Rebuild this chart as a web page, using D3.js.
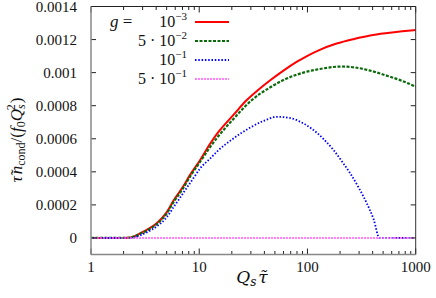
<!DOCTYPE html>
<html>
<head>
<meta charset="utf-8">
<script src="https://cdn.jsdelivr.net/npm/d3@7"></script>
<style>
  body { margin: 0; background: #fff; }
</style>
</head>
<body>
<div id="chart"></div>
<script>
// values (y in units of 1e-4)
const xRed = [1, 2, 2.2, 2.5, 2.84, 3.3, 4.05, 5, 5.77, 7, 8.2, 10.2, 12.6, 15, 20.7, 27.5, 35, 45, 60, 80, 100, 130, 186, 270, 379, 550, 750, 1000];
const yRed = [0, 0, 0.01, 0.1, 0.28, 0.5, 0.89, 1.55, 2.25, 3.05, 3.8, 4.72, 5.7, 6.4, 7.44, 8.34, 8.95, 9.52, 10.12, 10.66, 11.02, 11.38, 11.76, 12.04, 12.25, 12.4, 12.5, 12.58];

const xGreen = [1, 2, 2.2, 2.5, 2.84, 3.3, 4.05, 5, 5.77, 7, 8.2, 10.2, 12.6, 15, 20.7, 30.6, 45, 60, 91.6, 130, 207, 270, 379, 550, 750, 1000];
const yGreen = [0, 0, 0.01, 0.08, 0.25, 0.46, 0.84, 1.48, 2.15, 2.95, 3.7, 4.61, 5.5, 6.15, 7.2, 8.34, 9.1, 9.55, 10.0, 10.22, 10.37, 10.32, 10.12, 9.8, 9.5, 9.15];

const xBlue = [1, 2, 2.3, 2.84, 3.3, 4.05, 5, 5.77, 7, 8.82, 10.2, 12.6, 15, 20, 30, 40, 52, 70, 85.5, 110, 140, 174, 210, 248, 300, 353, 410, 462, 1000];
const yBlue = [0, 0, 0, 0.15, 0.35, 0.7, 1.25, 1.85, 2.65, 3.61, 4.21, 4.8, 5.3, 5.95, 6.7, 7.1, 7.33, 7.25, 7.03, 6.6, 6.0, 5.32, 4.6, 3.91, 3.0, 2.10, 1.1, 0, 0];

const xPink = [1, 1000];
const yPink = [0, 0];

const xTicks = [1, 10, 100, 1000];
const yTicks = [0, 0.0002, 0.0004, 0.0006, 0.0008, 0.001, 0.0012, 0.0014];
const yTickLabels = ["0", "0.0002", "0.0004", "0.0006", "0.0008", "0.001", "0.0012", "0.0014"];

const legendMant = ["", "5 · ", "", "5 · "];
const legendExp = ["−3", "−2", "−1", "−1"];

const SERIF = "Liberation Serif";

const width = 436, height = 298;
const margin = { top: 6.5, right: 20.3, bottom: 43.5, left: 91 };

const svg = d3.select("#chart").append("svg")
    .attr("width", width)
    .attr("height", height);

const x = d3.scaleLog()
    .domain([1, 1000])
    .range([margin.left, width - margin.right]);

const y = d3.scaleLinear()
    .domain([-0.0001, 0.0014])
    .range([height - margin.bottom, margin.top]);

const x0 = x.range()[0], x1 = x.range()[1];
const yb = y.range()[0], yt = y.range()[1];

// curves
const series = [
    { xs: xRed, ys: yRed, color: "#ff0000", width: 2, dash: null },
    { xs: xGreen, ys: yGreen, color: "#0a6a0a", width: 2.2, dash: "3,1.5" },
    { xs: xBlue, ys: yBlue, color: "#0000ff", width: 1.8, dash: "1.5,1.8" },
    { xs: xPink, ys: yPink, color: "#ff55ff", width: 1.6, dash: "2,1" }
];

const line = d3.line()
    .x(d => x(d[0]))
    .y(d => y(d[1] * 1e-4))
    .curve(d3.curveMonotoneX);

series.forEach(s => {
    svg.append("path")
        .datum(s.xs.map((v, i) => [v, s.ys[i]]))
        .attr("fill", "none")
        .attr("stroke", s.color)
        .attr("stroke-width", s.width)
        .attr("stroke-dasharray", s.dash)
        .attr("d", line);
});

// ticks (inside, all four sides)
const minor = [];
[1, 10, 100].forEach(d => { for (let k = 2; k < 10; k++) minor.push(d * k); });

const tickG = svg.append("g").attr("stroke", "#222").attr("stroke-width", 1);
xTicks.forEach(v => {
    tickG.append("line").attr("x1", x(v)).attr("x2", x(v)).attr("y1", yb).attr("y2", yb - 6);
    tickG.append("line").attr("x1", x(v)).attr("x2", x(v)).attr("y1", yt).attr("y2", yt + 6);
});
minor.forEach(v => {
    tickG.append("line").attr("x1", x(v)).attr("x2", x(v)).attr("y1", yb).attr("y2", yb - 3.5);
    tickG.append("line").attr("x1", x(v)).attr("x2", x(v)).attr("y1", yt).attr("y2", yt + 3.5);
});
yTicks.forEach(v => {
    tickG.append("line").attr("x1", x0).attr("x2", x0 + 5).attr("y1", y(v)).attr("y2", y(v));
    tickG.append("line").attr("x1", x1).attr("x2", x1 - 5).attr("y1", y(v)).attr("y2", y(v));
});

// frame
svg.append("line").attr("x1", x0).attr("x2", x1).attr("y1", yt).attr("y2", yt).attr("stroke", "#222");
svg.append("line").attr("x1", x1).attr("x2", x1).attr("y1", yt).attr("y2", yb).attr("stroke", "#333");
svg.append("line").attr("x1", x0).attr("x2", x0).attr("y1", yt).attr("y2", yb).attr("stroke", "#888").attr("stroke-width", 1.5);
svg.append("line").attr("x1", x0).attr("x2", x1).attr("y1", yb).attr("y2", yb).attr("stroke", "#888").attr("stroke-width", 1.5);

// tick labels
svg.append("g").selectAll("text")
    .data(yTicks)
    .enter().append("text")
    .attr("x", 77)
    .attr("y", d => y(d) + 5)
    .attr("text-anchor", "end")
    .attr("font-size", 15)
    .style("font-family", SERIF)
    .text((d, i) => yTickLabels[i]);

svg.append("g").selectAll("text")
    .data(xTicks)
    .enter().append("text")
    .attr("x", d => x(d))
    .attr("y", 272)
    .attr("text-anchor", "middle")
    .attr("font-size", 15)
    .style("font-family", SERIF)
    .text(d => d);

// x axis title (DejaVu Serif places the combining tilde well)
const xt = svg.append("text")
    .attr("x", 252)
    .attr("y", 283)
    .attr("text-anchor", "middle")
    .attr("font-size", 17)
    .attr("font-style", "italic")
    .style("font-family", "DejaVu Serif");
xt.append("tspan").text("Q");
xt.append("tspan").attr("font-size", 12).attr("dy", 3).text("s");
xt.append("tspan").attr("dy", -3).attr("dx", 2).text("τ\u0303");

// y axis title
const yl = svg.append("text")
    .attr("transform", "translate(22,140) rotate(-90)")
    .attr("text-anchor", "middle")
    .attr("font-size", 17)
    .attr("font-style", "italic")
    .style("font-family", "Times New Roman");
yl.append("tspan").text("τ\u0303");
yl.append("tspan").attr("dx", 2).text("n");
yl.append("tspan").attr("font-style", "normal").attr("font-size", 12).attr("dy", 3).text("cond");
yl.append("tspan").attr("font-style", "normal").attr("dy", -3).text("/(");
yl.append("tspan").text("f");
yl.append("tspan").attr("font-style", "normal").attr("font-size", 12).attr("dy", 3).text("0");
yl.append("tspan").attr("dy", -3).text("Q");
yl.append("tspan").attr("font-size", 12).attr("dy", 3).text("s");
yl.append("tspan").attr("font-style", "normal").attr("font-size", 12).attr("dy", -10).attr("dx", -6).text("2");
yl.append("tspan").attr("font-style", "normal").attr("dy", 7).attr("dx", 1).text(")");

// legend
const rowY = [22, 41, 60, 79];
svg.append("text")
    .attr("x", 110).attr("y", rowY[0] + 5)
    .attr("font-size", 17)
    .style("font-family", SERIF)
    .html('<tspan font-style="italic">g</tspan> =');

series.forEach((s, i) => {
    const t = svg.append("text")
        .attr("x", 187)
        .attr("y", rowY[i] + 5)
        .attr("text-anchor", "end")
        .attr("font-size", 16)
        .style("font-family", SERIF);
    t.append("tspan").text(legendMant[i] + "10");
    t.append("tspan").attr("font-size", 11).attr("dy", -7).text(legendExp[i]);

    svg.append("line")
        .attr("x1", 195).attr("x2", 229)
        .attr("y1", rowY[i]).attr("y2", rowY[i])
        .attr("stroke", s.color)
        .attr("stroke-width", s.width)
        .attr("stroke-dasharray", s.dash);
});

svg.selectAll("text").attr("fill", "#111");
</script>
</body>
</html>
